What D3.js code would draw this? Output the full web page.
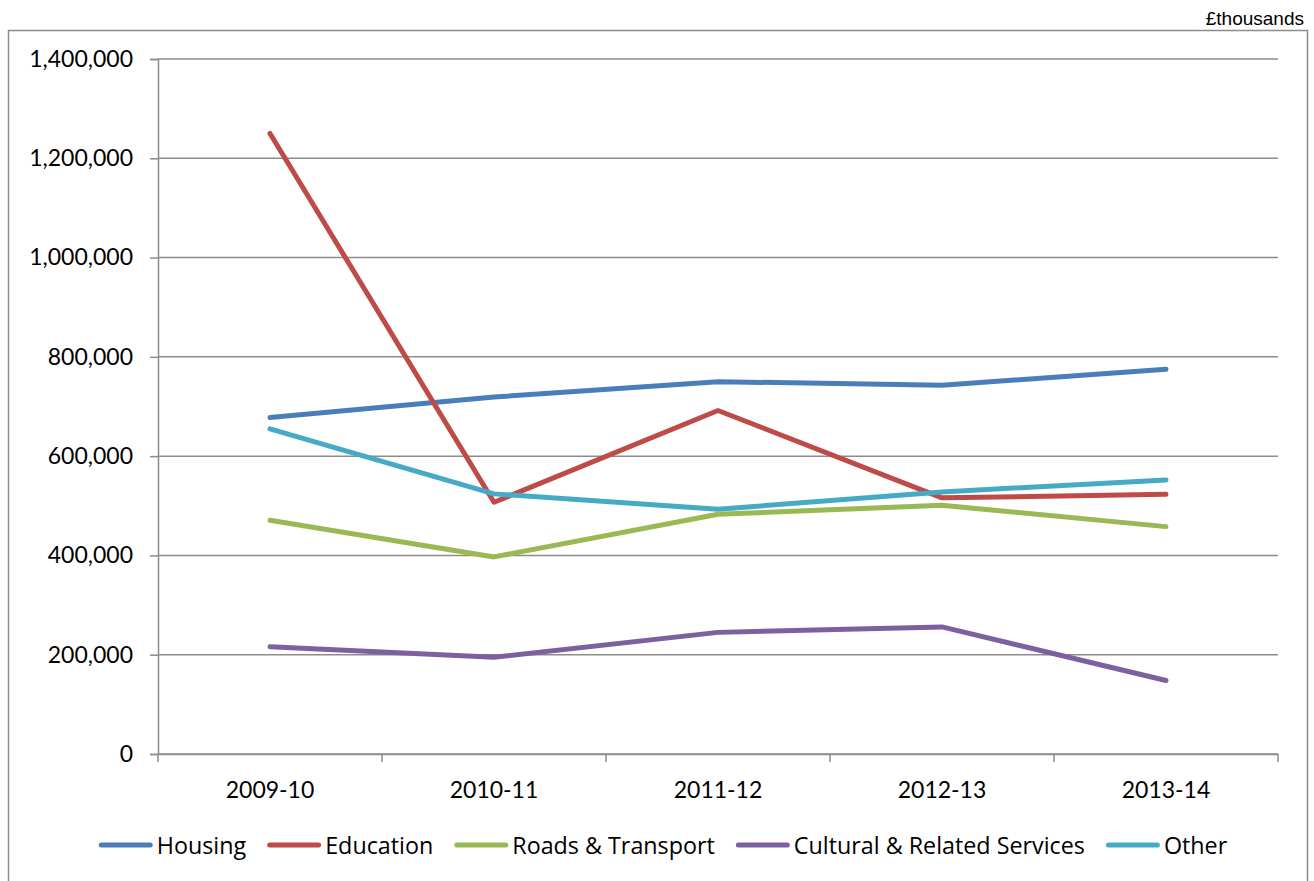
<!DOCTYPE html>
<html>
<head>
<meta charset="utf-8">
<script src="https://cdn.jsdelivr.net/npm/d3@7"></script>
<style>
  html, body { margin: 0; padding: 0; background: #fff; }
  svg { display: block; }
  text { font-family: Lato, "Open Sans", sans-serif; fill: #000; }
</style>
</head>
<body>
<svg id="chart" width="1314" height="881"></svg>
<script>
const categories = ["2009-10", "2010-11", "2011-12", "2012-13", "2013-14"];
const housing   = [678000, 719000, 750000, 743000, 775000];
const education = [1250000, 507000, 692000, 516000, 523000];
const roads     = [471000, 397000, 483000, 501000, 458000];
const cultural  = [216000, 195000, 245000, 256000, 148000];
const other     = [655000, 524000, 493000, 528000, 552000];
const seriesNames = ["Housing", "Education", "Roads & Transport", "Cultural & Related Services", "Other"];
const seriesColors = ["#4a7ebb", "#be4b48", "#98b954", "#7d60a0", "#46aac5"];
const yTicks = [0, 200000, 400000, 600000, 800000, 1000000, 1200000, 1400000];
const unitLabel = "£thousands";

(function () {
const seriesValues = [housing, education, roads, cultural, other];
const series = seriesNames.map((name, i) => ({ name, color: seriesColors[i], values: seriesValues[i] }));

const svg = d3.select("#chart");
const pLeft = 158, pRight = 1278, pTop = 59, pBottom = 754;
const gridColor = "#8c8c8c";

// outer frame
svg.append("rect")
  .attr("x", 8.5).attr("y", 30.5)
  .attr("width", 1299).attr("height", 870)
  .attr("fill", "none").attr("stroke", gridColor).attr("stroke-width", 1.5);

// unit label
svg.append("text")
  .attr("x", 1304).attr("y", 25)
  .attr("text-anchor", "end")
  .style("font-family", "'Liberation Sans', Arial, sans-serif")
  .style("font-size", "19px")
  .text(unitLabel);

const x = d3.scaleBand().domain(categories).range([pLeft, pRight]).paddingInner(0).paddingOuter(0);
const y = d3.scaleLinear().domain([0, 1400000]).range([pBottom, pTop]);

// gridlines
svg.append("g").selectAll("line").data(yTicks).join("line")
  .attr("x1", pLeft).attr("x2", pRight)
  .attr("y1", d => y(d)).attr("y2", d => y(d))
  .attr("stroke", gridColor).attr("stroke-width", 1.5);

// y axis
const yAxis = d3.axisLeft(y).tickValues(yTicks).tickSize(8).tickPadding(17)
  .tickFormat(d3.format(","));
const gy = svg.append("g").attr("transform", `translate(${pLeft},0)`).call(yAxis);
gy.select(".domain").attr("stroke", gridColor).attr("stroke-width", 1.5);
gy.selectAll(".tick line").attr("stroke", gridColor).attr("stroke-width", 1.5);
gy.selectAll(".tick text").style("font-size", "23px").style("font-family", "Lato, sans-serif").attr("fill", "#000");

// x axis
const xAxis = d3.axisBottom(x).tickSize(0).tickPadding(0);
const gx = svg.append("g").attr("transform", `translate(0,${pBottom})`).call(xAxis);
gx.select(".domain").attr("stroke", gridColor).attr("stroke-width", 1.5);
gx.selectAll(".tick text").attr("dy", 0).attr("y", 44)
  .style("font-size", "23px").style("font-family", "Lato, sans-serif").attr("fill", "#000");
// boundary tick marks between categories
const bounds = categories.map(c => x(c)).concat([x(categories[categories.length - 1]) + x.bandwidth()]);
svg.append("g").selectAll("line").data(bounds).join("line")
  .attr("x1", d => d).attr("x2", d => d)
  .attr("y1", pBottom).attr("y2", pBottom + 8)
  .attr("stroke", gridColor).attr("stroke-width", 1.5);

// lines
const line = d3.line()
  .x((d, i) => x(categories[i]) + x.bandwidth() / 2)
  .y(d => y(d));
svg.append("g").selectAll("path").data(series).join("path")
  .attr("d", d => line(d.values))
  .attr("fill", "none")
  .attr("stroke", d => d.color)
  .attr("stroke-width", 5)
  .attr("stroke-linejoin", "round")
  .attr("stroke-linecap", "round");

// legend
const legendY = 845;
const lg = svg.append("g");
const items = [];
series.forEach((s) => {
  const g = lg.append("g");
  g.append("line").attr("x1", 2.5).attr("x2", 51.5).attr("y1", 0).attr("y2", 0)
    .attr("stroke", s.color).attr("stroke-width", 5).attr("stroke-linecap", "round");
  const t = g.append("text").attr("x", 58).attr("y", 9)
    .style("font-family", "'Open Sans', sans-serif")
    .style("font-size", "23.3px").text(s.name);
  const tw = t.node().getComputedTextLength();
  items.push({ g, w: 58 + tw });
});
const gap = 21;
const totalW = items.reduce((a, b) => a + b.w, 0) + gap * (items.length - 1);
let startX = (95 + 1231) / 2 - totalW / 2;
items.forEach(it => {
  it.g.attr("transform", `translate(${startX},${legendY})`);
  startX += it.w + gap;
});
})();
</script>
</body>
</html>
